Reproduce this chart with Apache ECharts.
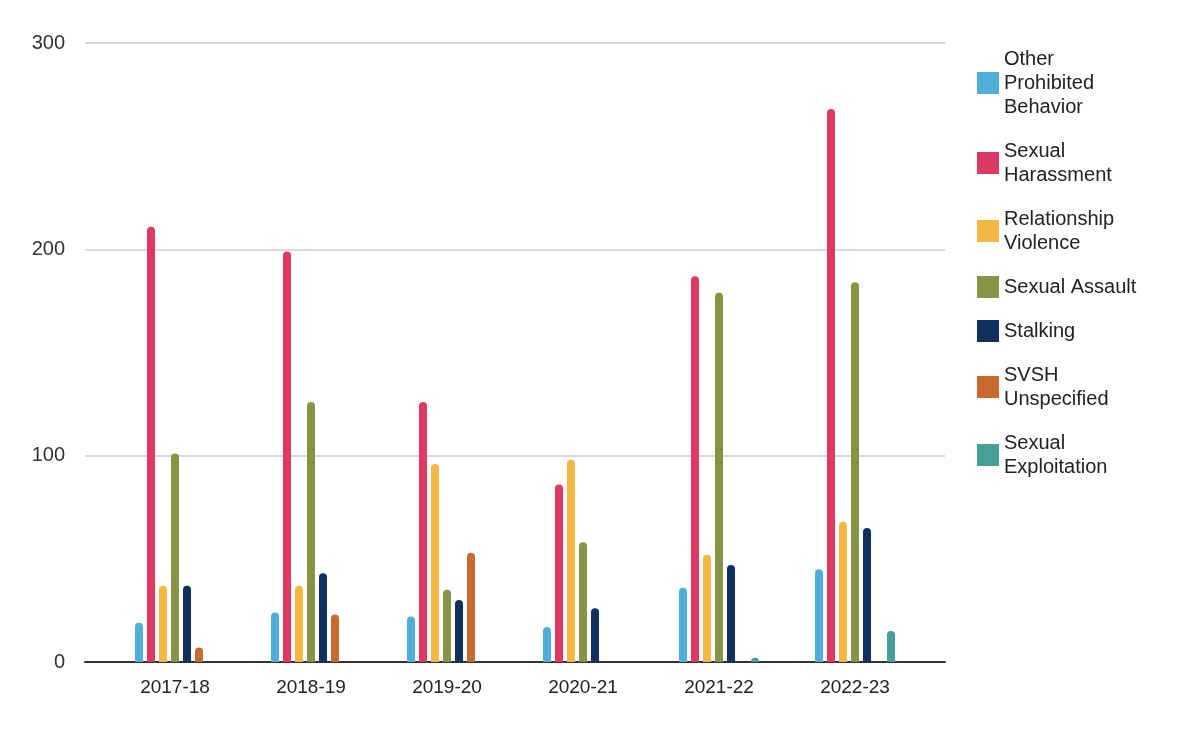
<!DOCTYPE html>
<html><head><meta charset="utf-8">
<script src="https://cdn.jsdelivr.net/npm/echarts@6/dist/echarts.min.js"></script>
<style>html,body{margin:0;padding:0;background:#fff}#c{width:1194px;height:734px}</style>
</head><body><div id="c"></div>
<script>
const categories = ['2017-18','2018-19','2019-20','2020-21','2021-22','2022-23'];
const otherProhibited = [19, 24, 22, 17, 36, 45];
const sexualHarassment = [211, 199, 126, 86, 187, 268];
const relationshipViolence = [37, 37, 96, 98, 52, 68];
const sexualAssault = [101, 126, 35, 58, 179, 184];
const stalking = [37, 43, 30, 26, 47, 65];
const svshUnspecified = [7, 23, 53, null, null, null];
const sexualExploitation = [null, null, null, null, 2, 15];
const yTicks = [0, 100, 200, 300];

const names = ['Other\nProhibited\nBehavior','Sexual\nHarassment','Relationship\nViolence','Sexual Assault','Stalking','SVSH\nUnspecified','Sexual\nExploitation'];
const colors = ['#51aed9','#dd3a63','#f3b843','#869445','#12305e','#c86a2f','#46a099'];
const datas = [otherProhibited, sexualHarassment, relationshipViolence, sexualAssault, stalking, svshUnspecified, sexualExploitation];
const FONT = '"Liberation Sans", Arial, sans-serif';

const chart = echarts.init(document.getElementById('c'));
chart.setOption({
  animation:false,
  textStyle:{fontFamily:FONT},
  grid:[{left:85,right:249,top:43,bottom:72},{left:107,right:271,top:43,bottom:72}],
  legend:{orient:'vertical',left:972,top:42,itemWidth:22,itemHeight:22,itemGap:20,icon:'rect',
    textStyle:{fontSize:20,color:'#222',lineHeight:24,fontFamily:FONT},data:names},
  xAxis:[
    {type:'category',gridIndex:0,data:categories,axisLine:{lineStyle:{color:'#333',width:2}},
     axisTick:{show:false},axisLabel:{show:false}},
    {type:'category',gridIndex:1,data:categories,axisLine:{show:false},axisTick:{show:false},
     axisLabel:{fontSize:19,color:'#222',margin:16,fontFamily:FONT}}],
  yAxis:[
    {type:'value',gridIndex:0,min:yTicks[0],max:yTicks[yTicks.length-1],interval:100,
     axisLine:{show:false},axisTick:{show:false},
     axisLabel:{fontSize:20,color:'#333',margin:20,fontFamily:FONT},
     splitLine:{lineStyle:{color:'#ccc',width:1.5}}},
    {type:'value',gridIndex:1,min:yTicks[0],max:yTicks[yTicks.length-1],interval:100,
     show:false,splitLine:{show:false}}],
  series:datas.map((d,i)=>({name:names[i],type:'bar',xAxisIndex:1,yAxisIndex:1,data:d,barWidth:8,barGap:'50%',
    itemStyle:{color:colors[i],borderRadius:[4,4,0,0]}}))
});
</script></body></html>
